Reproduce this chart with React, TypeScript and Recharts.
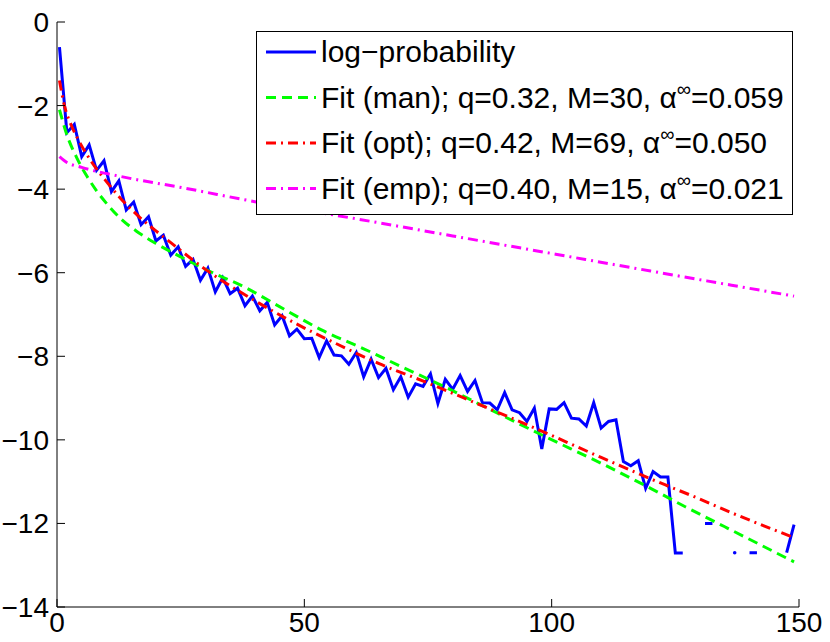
import { LineChart, Line, XAxis, YAxis, Legend } from 'recharts';

const FONT = '"Liberation Sans", Arial, Helvetica, sans-serif';

// log-probability samples (gaps where the value is -Inf)
const X_LOGP = [
  0.5, 2, 3.5, 5, 6.5, 8, 9.5, 11, 12.5, 14, 15.5, 17, 18.5, 20, 21.5, 23, 24.5, 26, 27.5, 29,
  30.5, 32, 33.5, 35, 36.5, 38, 39.5, 41, 42.5, 44, 45.5, 47, 48.5, 50, 51.5, 53, 54.5, 56, 57.5, 59,
  60.5, 62, 63.5, 65, 66.5, 68, 69.5, 71, 72.5, 74, 75.5, 77, 78.5, 80, 81.5, 83, 84.5, 86, 87.5, 89,
  90.5, 92, 93.5, 95, 96.5, 98, 99.5, 101, 102.5, 104, 105.5, 107, 108.5, 110, 111.5, 113, 114.5, 116, 117.5, 119,
  120.5, 122, 123.5, 125, 126.5, 128, 129.5, 131, 132.5, 134, 135.5, 137, 138.5, 140, 141.5, 143, 144.5, 146, 147.5, 149,
];
const Y_LOGP = [
  -0.6, -2.65, -2.45, -3.22, -2.94, -3.55, -3.32, -4.06, -3.8, -4.5, -4.31, -4.85, -4.66, -5.24, -5.1, -5.58, -5.38, -5.85, -5.68, -6.18,
  -5.89, -6.46, -6.12, -6.5, -6.37, -6.79, -6.56, -6.91, -6.71, -7.25, -7.03, -7.51, -7.35, -7.58, -7.57, -8.03, -7.63, -7.97, -7.99, -8.19,
  -7.91, -8.49, -8.07, -8.51, -8.29, -8.8, -8.49, -8.98, -8.66, -8.72, -8.42, -9.13, -8.55, -8.79, -8.46, -8.84, -8.58, -9.11, -9.12, -9.28,
  -8.87, -9.28, -9.35, -9.56, -9.24, -10.22, -9.26, -9.27, -9.11, -9.48, -9.5, -9.67, -9.11, -9.72, -9.56, -9.52, -10.52, -10.62, -10.5, -11.16,
  -10.76, -10.89, -10.89, -12.71, -12.71, null, null, -12.0, -12.0, null, null, -12.7, null, -12.7, -12.7, null, null, null, -12.7, -12.03,
];

const X_MAN = [0.5, 2, 4, 6, 8, 10, 13, 16, 20, 25, 30, 38, 46, 54, 62, 70, 78, 87, 99, 110, 120, 127, 135, 142, 149];
const Y_MAN = [-2.1, -2.7, -3.25, -3.68, -4.04, -4.34, -4.72, -5.0, -5.3, -5.62, -5.92, -6.35, -6.88, -7.4, -7.82, -8.27, -8.71, -9.24, -9.94, -10.56, -11.16, -11.6, -12.08, -12.5, -12.92];

const X_OPT = [0.5, 1.5, 3, 4.5, 7, 10, 13, 16.5, 20, 23, 30, 39, 48, 56.5, 65, 75, 83.5, 97, 110, 123, 128, 137.5, 149];
const Y_OPT = [-1.4, -2.0, -2.5, -2.86, -3.35, -3.82, -4.24, -4.65, -5.0, -5.28, -5.92, -6.6, -7.2, -7.7, -8.17, -8.64, -9.06, -9.74, -10.42, -11.08, -11.32, -11.8, -12.34];

const X_EMP = [0.5, 2, 5, 13, 26, 40, 60, 80, 100, 120, 149];
const Y_EMP = [-3.22, -3.36, -3.48, -3.7, -3.98, -4.3, -4.7, -5.12, -5.54, -5.96, -6.56];

const X_TICKS = [0, 50, 100, 150];
const Y_TICKS = [0, -2, -4, -6, -8, -10, -12, -14];

const zip = (xs: number[], ys: (number | null)[]) => xs.map((x, i) => ({ x, y: ys[i] }));

const logpData = zip(X_LOGP, Y_LOGP);
const manData = zip(X_MAN, Y_MAN);
const optData = zip(X_OPT, Y_OPT);
const empData = zip(X_EMP, Y_EMP);

const minus = (v: number) => String(v).replace('-', '\u2212');

// points with no neighbour would vanish in a plain line, so draw them as a dot
function LoneDot(props: any) {
  const i = props.index;
  const lone = Y_LOGP[i] != null && Y_LOGP[i - 1] == null && Y_LOGP[i + 1] == null;
  if (!lone) return <g key={`d${i}`} />;
  return <circle key={`d${i}`} cx={props.cx} cy={props.cy} r={1.8} fill="#0000ff" />;
}

const ROWS = [
  { color: '#0000ff', dash: undefined, label: 'log\u2212probability', q: '' },
  { color: '#00ff00', dash: '10 6', label: 'Fit (man); q=0.32, M=30, \u03b1', q: '=0.059' },
  { color: '#ff0000', dash: '10 5 2 5', label: 'Fit (opt); q=0.42, M=69, \u03b1', q: '=0.050' },
  { color: '#ff00ff', dash: '10 5 2 5', label: 'Fit (emp); q=0.40, M=15, \u03b1', q: '=0.021' },
];

function LegendBox() {
  return (
    <svg width={538} height={185} style={{ display: 'block' }}>
      <rect x={0.5} y={0.5} width={536} height={183} fill="#fff" stroke="#000" strokeWidth={1} />
      {ROWS.map((r, i) => {
        const base = 31 + i * 45.5;
        return (
          <g key={i}>
            <line x1={10} x2={60} y1={base - 10} y2={base - 10} stroke={r.color} strokeWidth={3} strokeDasharray={r.dash} />
            <text x={65} y={base} fontFamily={FONT} fontSize={30} fill="#000">
              {r.label}
              {r.q && (
                <>
                  <tspan dy={-12} fontSize={20}>{'\u221e'}</tspan>
                  <tspan dy={12}>{r.q}</tspan>
                </>
              )}
            </text>
          </g>
        );
      })}
    </svg>
  );
}

export default function App() {
  const tick = { fontSize: 28, fill: '#000', fontFamily: FONT };
  return (
    <div style={{ position: 'absolute', left: 0, top: 0, width: 830, height: 642, background: '#fff' }}>
      <LineChart width={830} height={642} margin={{ top: 22, right: 31, bottom: 0, left: 0 }}>
        <XAxis
          type="number"
          dataKey="x"
          domain={[0, 150]}
          ticks={X_TICKS}
          allowDataOverflow
          height={35}
          tick={tick}
          tickSize={-8}
          tickMargin={13}
          stroke="#000"
          tickFormatter={minus}
        />
        <YAxis
          type="number"
          dataKey="y"
          domain={[-14, 0]}
          ticks={Y_TICKS}
          allowDataOverflow
          width={57}
          tick={tick}
          tickSize={-8}
          tickMargin={16}
          stroke="#000"
          tickFormatter={minus}
        />
        <Line data={logpData} dataKey="y" type="linear" stroke="#0000ff" strokeWidth={3} dot={LoneDot} activeDot={false} isAnimationActive={false} />
        <Line data={manData} dataKey="y" type="monotone" stroke="#00ff00" strokeWidth={3} strokeDasharray="10 6" dot={false} activeDot={false} isAnimationActive={false} />
        <Line data={optData} dataKey="y" type="monotone" stroke="#ff0000" strokeWidth={3} strokeDasharray="10 5 2 5" dot={false} activeDot={false} isAnimationActive={false} />
        <Line data={empData} dataKey="y" type="monotone" stroke="#ff00ff" strokeWidth={3} strokeDasharray="10 5 2 5" dot={false} activeDot={false} isAnimationActive={false} />
        <Legend
          layout="vertical"
          align="center"
          verticalAlign="middle"
          content={() => <LegendBox />}
          wrapperStyle={{ left: 256, top: 31, width: 538, height: 185 }}
        />
      </LineChart>
    </div>
  );
}
